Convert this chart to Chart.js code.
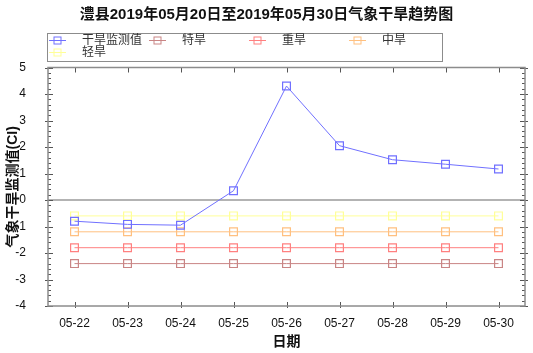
<!DOCTYPE html>
<html>
<head>
<meta charset="utf-8">
<script src="https://cdn.jsdelivr.net/npm/chart.js@4.4.0/dist/chart.umd.min.js"></script>
<style>
    html, body { margin: 0; padding: 0; background: #fff; }
    #wrap { width: 533px; height: 353px; }
</style>
</head>
<body>
<div id="wrap"><canvas id="droughtChart" width="533" height="353"></canvas></div>
<script>
// chart data
var dates = ['05-22', '05-23', '05-24', '05-25', '05-26', '05-27', '05-28', '05-29', '05-30'];
var ciValues = [-0.8, -0.92, -0.95, 0.35, 4.3, 2.05, 1.52, 1.35, 1.17];
var extremeLevel = [-2.4, -2.4, -2.4, -2.4, -2.4, -2.4, -2.4, -2.4, -2.4];
var severeLevel = [-1.8, -1.8, -1.8, -1.8, -1.8, -1.8, -1.8, -1.8, -1.8];
var moderateLevel = [-1.2, -1.2, -1.2, -1.2, -1.2, -1.2, -1.2, -1.2, -1.2];
var lightLevel = [-0.6, -0.6, -0.6, -0.6, -0.6, -0.6, -0.6, -0.6, -0.6];
var seriesNames = ['干旱监测值', '特旱', '重旱', '中旱', '轻旱'];
var yTicks = [-4, -3, -2, -1, 0, 1, 2, 3, 4, 5];

var FONT = "'Liberation Sans', Arial, 'Noto Sans CJK SC', sans-serif";
var colors = ['#7070ff', '#c98585', '#ff8080', '#ffc080', '#ffff99'];

function makeSet(i, values) {
    return {
        label: seriesNames[i],
        data: values,
        borderColor: colors[i],
        backgroundColor: 'transparent',
        borderWidth: 1,
        pointStyle: 'rect',
        pointRadius: 5.5,
        pointHoverRadius: 5.5,
        pointBorderWidth: 1.2,
        pointBorderColor: colors[i],
        pointBackgroundColor: 'transparent',
        tension: 0
    };
}

// frame, zero line and inward ticks
var framePlugin = {
    id: 'frame',
    beforeDatasetsDraw: function (chart) {
        var ctx = chart.ctx;
        var a = chart.chartArea;
        var y = chart.scales.y;
        var x = chart.scales.x;
        ctx.save();
        ctx.strokeStyle = '#9a9a9a';
        ctx.lineWidth = 1.5;
        var y0 = y.getPixelForValue(0);
        ctx.beginPath();
        ctx.moveTo(a.left, y0);
        ctx.lineTo(a.right, y0);
        ctx.stroke();

        ctx.strokeStyle = '#555';
        ctx.lineWidth = 1;
        ctx.beginPath();
        for (var i = -20; i <= 25; i++) {
            var py = Math.round(y.getPixelForValue(i / 5)) + 0.5;
            var major = (i % 5 === 0);
            ctx.moveTo(a.left - (major ? 3 : 0), py);
            ctx.lineTo(a.left + (major ? 5 : 3), py);
            ctx.moveTo(a.right + (major ? 3 : 0), py);
            ctx.lineTo(a.right - (major ? 5 : 3), py);
        }
        for (var j = 0; j < dates.length; j++) {
            var px = Math.round(x.getPixelForValue(j)) + 0.5;
            ctx.moveTo(px, a.bottom + 2);
            ctx.lineTo(px, a.bottom - 4);
            ctx.moveTo(px, a.top);
            ctx.lineTo(px, a.top + 5);
        }
        ctx.stroke();

        ctx.strokeStyle = '#8c8c8c';
        ctx.lineWidth = 1.5;
        ctx.strokeRect(a.left, a.top, a.right - a.left, a.bottom - a.top);
        ctx.restore();
    }
};

// legend laid out in fixed columns inside a box
var legendPlugin = {
    id: 'gridLegend',
    afterDraw: function (chart) {
        var ctx = chart.ctx;
        var left = chart.chartArea.left;
        ctx.save();
        ctx.strokeStyle = '#8c8c8c';
        ctx.lineWidth = 1;
        ctx.strokeRect(left - 0.5, 33.5, 395, 28);
        ctx.font = '12px ' + FONT;
        ctx.textBaseline = 'middle';
        ctx.textAlign = 'left';
        chart.data.datasets.forEach(function (ds, i) {
            var col = i % 4;
            var row = Math.floor(i / 4);
            var lx = left + 1 + col * 100;
            var ly = 40.5 + row * 12;
            ctx.strokeStyle = ds.borderColor;
            ctx.lineWidth = 1;
            ctx.beginPath();
            ctx.moveTo(lx, ly);
            ctx.lineTo(lx + 17, ly);
            ctx.stroke();
            ctx.strokeRect(lx + 5, ly - 3.5, 7, 7);
            ctx.fillStyle = '#333';
            ctx.fillText(ds.label, lx + 33, ly);
        });
        ctx.restore();
    }
};

function drawChart() {
    var canvas = document.getElementById('droughtChart');
    new Chart(canvas, {
        type: 'line',
        data: {
            labels: dates,
            datasets: [
                makeSet(0, ciValues),
                makeSet(1, extremeLevel),
                makeSet(2, severeLevel),
                makeSet(3, moderateLevel),
                makeSet(4, lightLevel)
            ]
        },
        options: {
            responsive: false,
            animation: false,
            events: [],
            layout: { padding: { left: 4, right: 4, top: 0, bottom: 0 } },
            plugins: {
                legend: { display: false },
                tooltip: { enabled: false },
                title: {
                    display: true,
                    text: '澧县2019年05月20日至2019年05月30日气象干旱趋势图',
                    color: '#111',
                    font: { family: FONT, size: 15, weight: 'bold' },
                    padding: { top: 6, bottom: 43.5 }
                }
            },
            scales: {
                x: {
                    type: 'category',
                    offset: true,
                    grid: { display: false },
                    border: { display: false },
                    ticks: {
                        color: '#111',
                        padding: 2,
                        maxRotation: 0,
                        font: { family: FONT, size: 12 }
                    },
                    title: {
                        display: true,
                        text: '日期',
                        color: '#111',
                        font: { family: FONT, size: 14, weight: 'bold' },
                        padding: { top: 0, bottom: 2 }
                    },
                    afterFit: function (scale) { scale.height = 47; }
                },
                y: {
                    min: -4,
                    max: 5,
                    grid: { display: false },
                    border: { display: false },
                    afterBuildTicks: function (scale) {
                        scale.ticks = yTicks.map(function (v) { return { value: v }; });
                    },
                    ticks: {
                        color: '#111',
                        padding: 14,
                        font: { family: FONT, size: 12 }
                    },
                    title: {
                        display: true,
                        text: '气象干旱监测值(CI)',
                        color: '#111',
                        font: { family: FONT, size: 14, weight: 'bold' },
                        padding: { top: 1, bottom: 0 }
                    },
                    afterFit: function (scale) { scale.width = 44; }
                },
                y2: {
                    position: 'right',
                    display: true,
                    grid: { display: false },
                    border: { display: false },
                    ticks: { display: false },
                    afterFit: function (scale) { scale.width = 4; }
                }
            }
        },
        plugins: [framePlugin, legendPlugin]
    });
}

drawChart();
</script>
</body>
</html>
